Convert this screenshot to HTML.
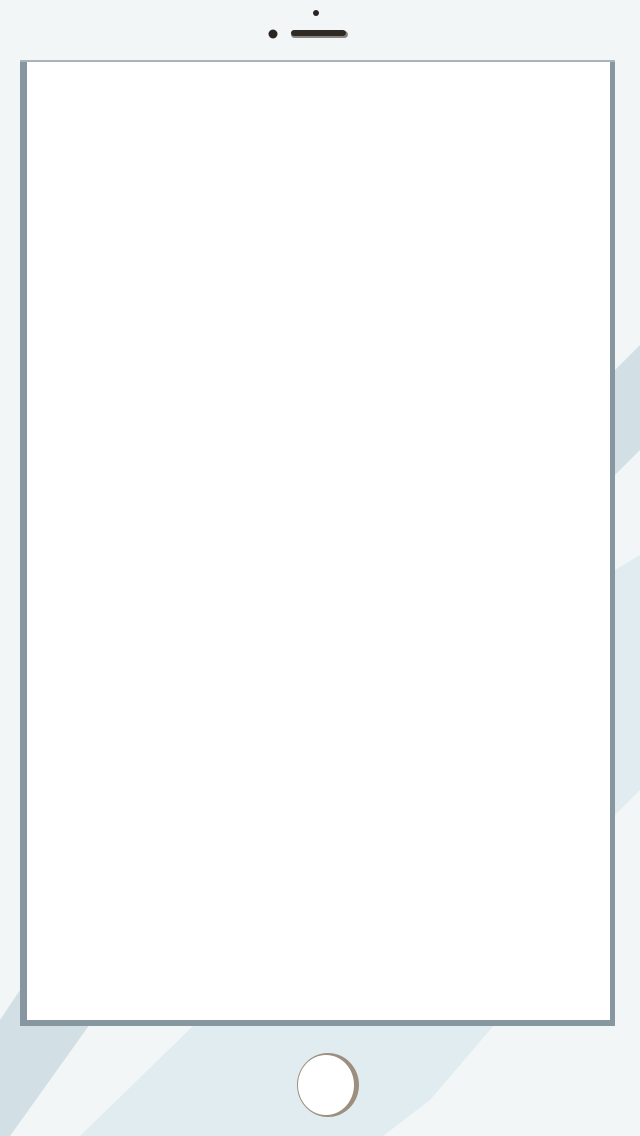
<!DOCTYPE html>
<html><head><meta charset="utf-8"><style>
html,body{margin:0;padding:0;width:640px;height:1136px;overflow:hidden;background:#f2f6f7}
svg{display:block}
</style></head><body>
<svg width="640" height="1136" viewBox="0 0 640 1136">
  <rect x="0" y="0" width="640" height="1136" fill="#f2f6f7"/>
  <polygon points="640,345 640,450 615,475 615,370" fill="#d2dfe4"/>
  <polygon points="640,555 640,790 600,830 495,1024 430,1100 383,1136 80,1136 195,1024 615,570" fill="#e1ecf0"/>
  <polygon points="20,990 20,1024 90,1024 0,1150 0,1020" fill="#d2dfe4"/>
  <rect x="20" y="60" width="595" height="966" fill="#86979f"/>
  <rect x="27" y="62" width="583" height="958" fill="#ffffff"/>
  <line x1="20" y1="61" x2="615" y2="61" stroke="#c9d2d6" stroke-width="1"/>
  <circle cx="316" cy="13" r="3" fill="#2a2521"/>
  <circle cx="273" cy="34" r="4.5" fill="#2a2521"/>
  <rect x="291" y="31" width="57" height="7" rx="3.5" fill="#8a8580"/>
  <rect x="291" y="30" width="55" height="6" rx="3" fill="#2e2a26"/>
  <ellipse cx="328" cy="1085" rx="31" ry="32" fill="#9c8f80"/>
  <ellipse cx="326" cy="1085" rx="28" ry="30" fill="#ffffff"/>
</svg>
</body></html>
